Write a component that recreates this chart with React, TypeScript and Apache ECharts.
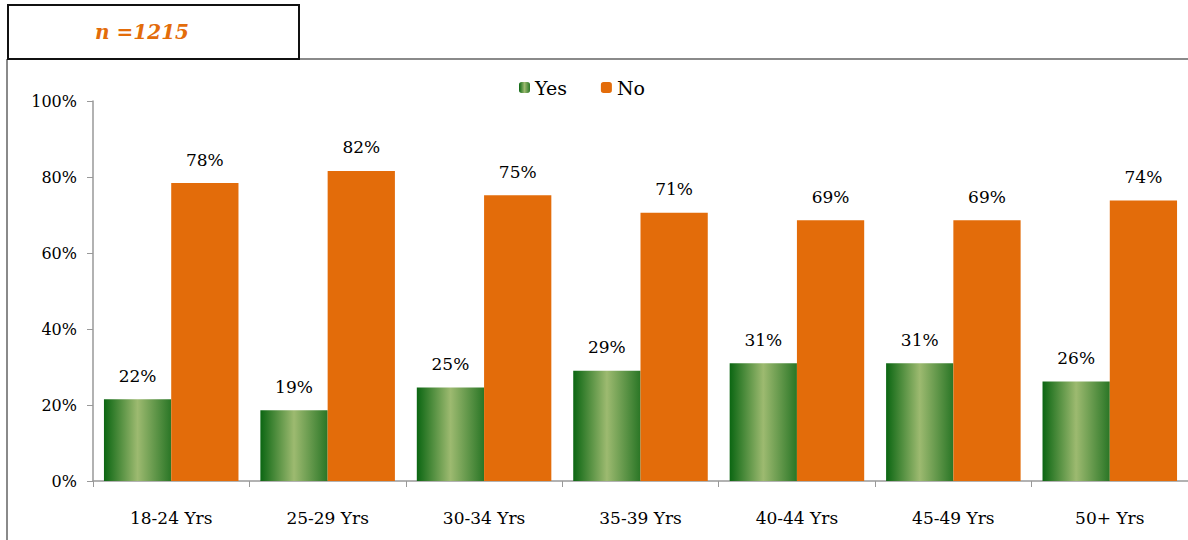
import React, { useEffect, useRef } from "react";
import * as echarts from "echarts";

const categories = ["18-24 Yrs", "25-29 Yrs", "30-34 Yrs", "35-39 Yrs", "40-44 Yrs", "45-49 Yrs", "50+ Yrs"];
const yesValues = [21.5, 18.6, 24.6, 29.0, 31.0, 31.0, 26.2];
const noValues = [78.4, 81.6, 75.2, 70.6, 68.6, 68.6, 73.8];
const yTicks = [0, 20, 40, 60, 80, 100];
const sampleLabel = "n =1215";

const FONT = "DejaVu Serif";

export default function App() {
  const ref = useRef<HTMLDivElement>(null);
  useEffect(() => {
    const chart = echarts.init(ref.current!, null, { renderer: "svg" });
    const yesGrad = new echarts.graphic.LinearGradient(0, 0, 1, 0, [
      { offset: 0, color: "#0b6612" },
      { offset: 0.5, color: "#9dba70" },
      { offset: 1, color: "#2a7626" },
    ]);
    chart.setOption({
      animation: false,
      backgroundColor: "#ffffff",
      graphic: [
        { type: "line", shape: { x1: 7, y1: 59, x2: 1188, y2: 59 }, style: { stroke: "#8a8a8a", lineWidth: 2 } },
        { type: "line", shape: { x1: 7, y1: 59, x2: 7, y2: 540 }, style: { stroke: "#8a8a8a", lineWidth: 2 } },
        { type: "rect", shape: { x: 8, y: 5, width: 291, height: 54 }, style: { fill: "#ffffff", stroke: "#111111", lineWidth: 2 } },
        {
          type: "text",
          x: 142,
          y: 32,
          style: {
            text: sampleLabel,
            fill: "#e36c0a",
            fontFamily: FONT,
            fontSize: 20,
            fontStyle: "italic",
            fontWeight: "bold",
            align: "center",
            verticalAlign: "middle",
          },
        },
      ],
      legend: {
        top: 73,
        left: 514,
        itemWidth: 11,
        itemHeight: 11,
        itemGap: 34,
        textStyle: { fontFamily: FONT, fontSize: 19, color: "#000" },
        data: [
          { name: "Yes", itemStyle: { color: yesGrad } },
          { name: "No", itemStyle: { color: "#e36c0a" } },
        ],
      },
      grid: { left: 93, right: -7, top: 101, bottom: 59, containLabel: false },
      xAxis: {
        type: "category",
        data: categories,
        axisLine: { lineStyle: { color: "#999999", width: 1.5 } },
        axisTick: { show: true, length: 6, lineStyle: { color: "#999999" } },
        axisLabel: { fontFamily: FONT, fontSize: 17, color: "#000", margin: 28 },
      },
      yAxis: {
        type: "value",
        min: 0,
        max: 100,
        interval: 20,
        splitLine: { show: false },
        axisLine: { show: true, lineStyle: { color: "#999999", width: 1.5 } },
        axisTick: { show: true, length: 6, lineStyle: { color: "#999999" } },
        axisLabel: {
          fontFamily: FONT,
          fontSize: 16,
          color: "#000",
          margin: 16,
          formatter: (v: number) => (yTicks.includes(v) ? `${v}%` : ""),
        },
      },
      series: [
        {
          name: "Yes",
          type: "bar",
          data: yesValues,
          barCategoryGap: "14%",
          barGap: "0%",
          itemStyle: { color: yesGrad },
          label: {
            show: true,
            position: "top",
            distance: 15,
            fontFamily: FONT,
            fontSize: 17,
            color: "#000",
            formatter: (p: any) => `${Math.round(p.value)}%`,
          },
        },
        {
          name: "No",
          type: "bar",
          data: noValues,
          barCategoryGap: "14%",
          barGap: "0%",
          itemStyle: { color: "#e36c0a" },
          label: {
            show: true,
            position: "top",
            distance: 15,
            fontFamily: FONT,
            fontSize: 17,
            color: "#000",
            formatter: (p: any) => `${Math.round(p.value)}%`,
          },
        },
      ],
    });
    return () => chart.dispose();
  }, []);
  return <div ref={ref} style={{ position: "fixed", left: 0, top: 0, width: 1188, height: 540 }} />;
}
